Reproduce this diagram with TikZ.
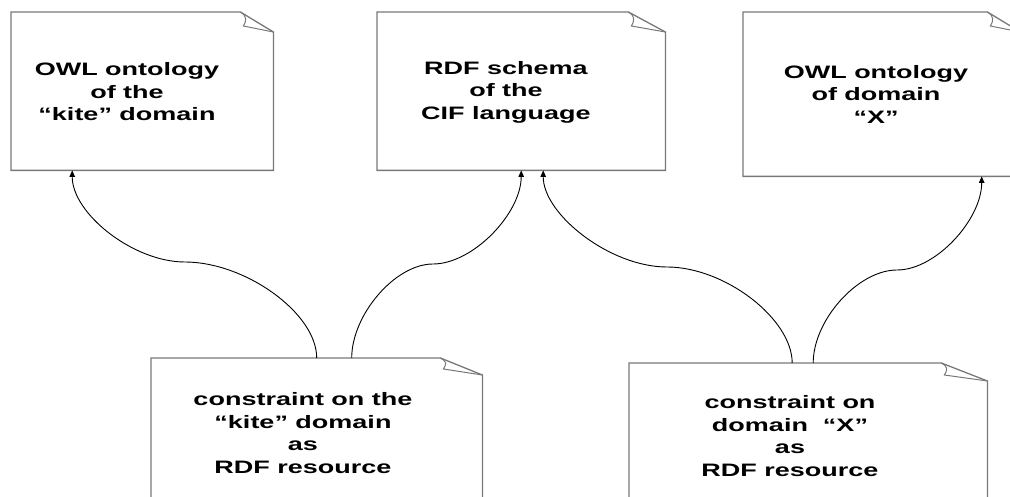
\documentclass[tikz,border=0pt]{standalone}
\usepackage{fontspec}
\setmainfont{Liberation Sans}
\newfontfamily\boxfont{Liberation Sans}[FakeStretch=1.5]
\usetikzlibrary{arrows.meta,calc}
\begin{document}
\begin{tikzpicture}[x=1pt,y=-1pt,
  boxnode/.style={draw=none,inner sep=0pt,anchor=north west},
  outline/.style={draw={rgb,255:red,120;green,120;blue,120},line width=1.3pt,line join=miter},
  txt/.style={font=\boxfont\fontsize{18}{22.5}\selectfont\bfseries,align=center,inner sep=0pt},
  conn/.style={draw=black,line width=0.9pt,-{Triangle[length=6.5pt,width=5.5pt]}}]
\useasboundingbox (0,0) rectangle (1010,497);
\begin{scope}
\clip (0,0) rectangle (1010,497);
% boxes
\node[boxnode,minimum width=262pt,minimum height=158pt] (b1) at (11,12) {};
\node[boxnode,minimum width=288pt,minimum height=158pt] (b2) at (377,12) {};
\node[boxnode,minimum width=277pt,minimum height=164pt] (b3) at (743,12) {};
\node[boxnode,minimum width=331pt,minimum height=170pt] (b4) at (151,358) {};
\node[boxnode,minimum width=358pt,minimum height=170pt] (b5) at (629,363) {};
% outlines with folded corner
\foreach \n/\fw/\fh in {b1/33/20, b2/37/20, b3/33/20, b4/42/17, b5/46/18}{
  \coordinate (fs) at ($(\n.north east)+(-\fw,0)$);
  \coordinate (fe) at ($(\n.north east)+(0,\fh)$);
  \draw[outline] (\n.south west) -- (\n.north west) -- (fs) -- (fe) -- (\n.south east) -- cycle;
  \draw[outline,line width=1pt] (fs) .. controls +(7,4) and +(3,-5) .. ($(fs)+(3,\fh-6)$) -- (fe);
}
\end{scope}
% texts
\node[txt] (t1) at (127,92) {OWL ontology\\of the\\“kite” domain};
\node[txt] (t2) at (506,92) {RDF schema\\of the\\CIF language};
\node[txt] (t3) at (876,94) {OWL ontology\\of domain\\“X”};
\node[txt] (t4) at (303,433) {constraint on the\\“kite” domain\\as\\RDF resource};
\node[txt] (t5) at (790,436) {constraint on\\domain\ \ “X”\\as\\RDF resource};
% connector waypoints
\coordinate (m1) at (185,262);
\coordinate (m2) at (433,264);
\coordinate (m3) at (667,267);
\coordinate (m4) at (897,270);
% connectors
\draw[conn] (b4.north) .. controls +(0,-45) and +(60,0) .. (m1)
  .. controls +(-52,0) and +(0,43) .. ([xshift=-70pt]b1.south);
\draw[conn] ([xshift=35pt]b4.north) .. controls +(0,-43) and +(-38,0) .. (m2)
  .. controls +(40,0) and +(0,43) .. (b2.south);
\draw[conn] ([xshift=-16pt]b5.north) .. controls +(0,-44) and +(58,0) .. (m3)
  .. controls +(-57,0) and +(0,44) .. ([xshift=22pt]b2.south);
\draw[conn] ([xshift=5pt]b5.north) .. controls +(0,-43) and +(-39,0) .. (m4)
  .. controls +(39,0) and +(0,43) .. ([xshift=100pt]b3.south);
\end{tikzpicture}
\end{document}
